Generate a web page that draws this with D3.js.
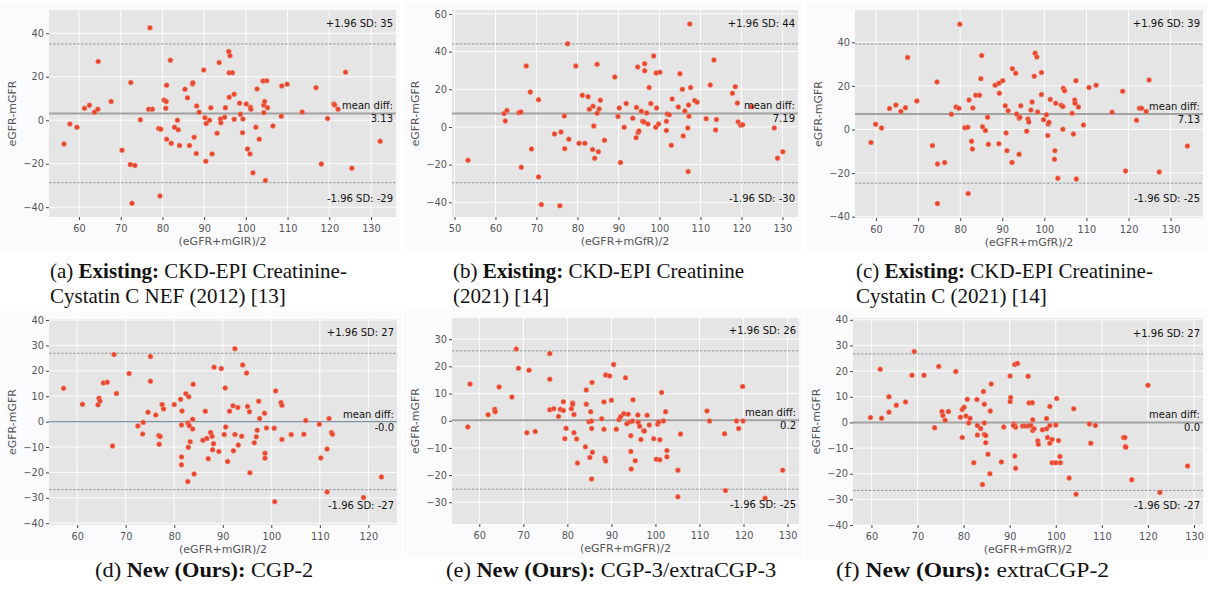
<!DOCTYPE html>
<html>
<head>
<meta charset="utf-8">
<script src="https://cdn.jsdelivr.net/npm/d3@7"></script>
<style>
  body { margin: 0; background: #fff; }
  svg { display: block; }
  .tick text { font-family: "DejaVu Sans", sans-serif; font-size: 9.8px; fill: #555; }
  .tick line { stroke: #444; }
  .domain { display: none; }
  .note { font-family: "DejaVu Sans", sans-serif; font-size: 10px; fill: #111; }
  .axlabel { font-family: "DejaVu Sans", sans-serif; font-size: 11px; fill: #555; }
  .caption { font-family: "Liberation Serif", "Times New Roman", serif; fill: #111; }
</style>
</head>
<body>
<div id="chart"></div>
<script>
// ---- data (mean = (eGFR+mGFR)/2, diff = eGFR-mGFR) ----
const aMean = [56.4,57.8,59.5,61.3,62.5,63.7,64.5,64.6,67.7,70.3,72.4,72.3,73.4,72.7,74.7,76.7,77.6,77.0,79.1,79.6,79.4,80.4,80.9,80.8,81.0,81.0,81.9,82.1,82.9,83.6,83.8,84.1,85.4,86.0,86.5,87.2,87.3,87.6,88.1,88.2,88.8,89.9,90.2,90.4,90.5,91.3,91.6,91.9,93.1,93.6,93.9,94.0,94.9,95.1,95.9,96.0,96.2,96.0,96.8,97.2,97.2,98.5,98.7,99.2,99.3,100.1,100.4,101.1,101.2,101.0,101.7,102.4,102.7,103.2,104.1,104.3,104.3,104.5,105.0,104.7,105.2,106.5,108.5,108.6,109.9,113.5,116.8,118.1,119.6,121.1,121.3,122.1,123.9,125.4,132.2];
const aDiff = [-10.9,-1.7,-3.2,5.5,6.9,3.7,5.1,27.0,8.6,-13.8,17.3,-20.4,-20.8,-38.2,0.2,5.1,5.1,42.5,-3.8,-4.1,-34.8,9.3,8.6,5.5,16.1,-8.7,27.6,-10.6,-3.2,0.0,-4.4,-11.6,14.3,10.3,-11.6,16.7,17.2,-7.8,-15.3,6.6,3.7,23.1,1.2,-18.9,-1.5,0.0,5.7,-15.5,-6.0,26.5,0.6,-1.1,1.4,5.8,31.6,10.6,29.7,21.8,21.8,12.0,0.5,7.8,2.8,-5.7,0.6,7.5,-13.2,6.0,5.1,-15.5,-24.2,-3.2,14.4,-8.7,18.1,3.5,6.9,8.6,18.2,-27.7,5.8,-2.6,1.8,15.8,16.6,3.8,15.0,-20.1,0.8,7.5,7.0,5.1,22.1,-22.1,-9.7];

const bMean = [53.3,62.1,62.4,62.8,65.7,66.2,66.3,67.5,68.5,68.8,70.5,70.5,71.2,74.4,75.7,76.0,76.8,76.9,77.6,77.9,79.6,80.4,81.2,81.8,82.6,82.9,83.8,83.7,84.0,84.2,84.8,84.8,85.1,85.3,85.6,86.6,89.1,89.9,90.2,90.5,91.4,91.9,93.5,94.3,94.4,94.7,94.8,95.0,95.6,95.9,96.2,96.4,96.4,96.9,97.2,97.5,97.9,98.6,99.1,99.2,99.3,99.8,100.1,101.7,101.7,101.9,102.4,102.9,103.1,104.6,105.0,105.6,105.8,106.2,107.0,106.9,107.1,107.2,107.4,107.6,108.6,109.2,111.4,112.4,113.3,113.7,113.9,117.8,118.5,119.0,119.2,119.8,120.3,122.5,128.0,128.8,130.1];
const bDiff = [-17.7,7.1,3.2,8.8,7.6,8.0,-21.4,32.4,18.6,-11.7,14.5,-26.5,-41.2,-3.7,-41.8,-2.7,5.8,-11.5,44.2,-6.5,32.4,-8.7,16.8,-8.7,16.1,9.4,11.0,-12.0,0.5,-16.6,7.3,33.3,-13.1,9.6,14.2,-7.1,26.5,5.5,10.1,-18.8,-0.2,12.4,4.6,-5.7,10.4,31.9,-3.0,-2.1,8.3,3.0,2.7,33.6,29.9,7.4,1.6,20.9,12.4,37.7,-0.2,28.7,10.1,1.6,29.0,3.0,-1.9,6.9,6.5,-9.7,14.9,10.6,28.3,20.0,-4.8,8.5,-23.7,-0.5,11.7,5.7,54.7,20.9,14.0,13.1,4.4,22.3,35.6,-1.6,3.9,17.9,21.4,12.7,2.7,0.9,1.2,10.8,-0.5,-16.6,-13.1];

const cMean = [58.8,59.9,61.3,63.2,64.7,65.9,67.0,67.5,69.7,73.4,74.5,74.6,74.6,76.3,77.9,79.0,79.7,79.9,81.1,81.8,82.1,81.9,82.7,82.9,83.0,83.7,84.6,84.9,85.1,85.3,86.0,86.5,86.7,88.3,89.2,89.3,89.2,90.1,90.7,90.9,91.1,91.4,92.3,92.4,93.2,93.4,94.0,94.2,94.0,94.4,95.8,96.1,96.3,96.8,97.1,97.6,97.8,98.2,98.4,99.3,99.3,99.8,100.5,100.9,101.1,100.8,101.4,102.5,102.4,102.7,103.2,104.0,104.4,104.4,104.5,104.8,106.6,106.9,107.2,107.3,107.5,107.6,108.1,109.3,110.6,112.3,116.1,118.6,119.3,121.9,122.6,123.1,124.2,124.9,127.3,134.0];
const cDiff = [-6.0,2.4,0.7,9.6,11.2,8.3,10.0,33.0,13.1,-7.4,21.8,-15.8,-34.0,-15.2,7.0,10.3,9.7,48.3,0.8,1.0,13.5,-29.4,-5.4,-8.9,9.9,15.7,15.7,23.3,33.9,1.3,-0.5,5.6,-6.8,20.3,21.2,16.6,-6.5,22.4,10.9,-1.6,-9.7,8.6,-15.1,27.9,25.8,7.1,5.1,5.6,-11.4,10.9,-0.8,4.8,3.4,8.9,12.6,24.4,35.0,33.3,8.0,26.1,16.0,4.5,6.8,2.5,3.3,-2.8,13.8,-9.7,-13.7,12.0,-22.4,11.1,10.5,0.1,18.9,17.8,7.4,-2.1,13.5,12.0,22.4,-22.7,10.3,2.1,19.2,20.3,7.9,17.5,-19.0,4.2,9.7,9.7,8.3,22.7,-19.5,-7.6];

const dMean = [57.2,61.1,64.3,64.5,64.7,65.4,66.2,67.3,67.6,68.1,70.7,72.5,73.6,73.5,74.6,75.1,75.1,76.2,76.8,77.1,76.9,77.5,77.8,80.0,81.3,81.5,81.6,81.5,81.5,82.4,82.8,83.0,83.1,82.9,82.8,83.3,83.8,83.8,83.9,84.1,85.9,86.4,86.7,87.0,87.5,87.8,87.9,88.1,88.2,89.2,89.7,90.5,90.6,90.3,91.0,91.4,92.1,92.2,92.5,92.5,93.1,93.2,93.9,94.1,94.9,95.1,95.5,95.6,96.5,96.9,97.1,97.4,97.6,98.6,98.7,98.7,99.0,100.6,100.7,100.9,102.0,102.2,102.2,104.1,106.7,107.1,109.9,110.2,111.5,111.5,111.9,112.4,112.6,119.0,122.7];
const dDiff = [13.1,6.8,6.6,9.2,8.1,15.2,15.5,-9.6,26.4,11.1,18.9,-1.7,-0.3,-4.9,3.7,25.6,15.9,2.6,-5.5,-5.9,-8.9,6.7,5.0,6.7,8.8,-1.3,4.2,-13.9,-17.0,11.0,-0.5,9.8,-1.6,-10.1,-23.6,-7.9,0.9,-2.9,14.7,-20.6,-7.3,4.1,-6.6,-14.6,-4.3,-5.8,-11.1,-8.7,21.4,-11.8,20.9,13.2,-2.1,-5.1,-15.7,4.1,6.2,-11.5,-5.1,28.7,5.6,-9.2,-5.8,22.3,19.1,6.0,3.9,-20.1,-8.3,-6.0,-3.4,8.0,1.2,3.3,-12.5,-14.4,-2.5,-2.6,-31.5,12.1,7.5,6.4,-7.0,-5.1,-5.0,0.4,-1.0,-14.3,-10.8,-27.7,1.2,-4.3,-5.0,-29.9,-21.8];

const eMean = [57.4,57.9,62.0,63.5,63.6,64.5,67.4,68.4,68.9,70.8,71.3,72.7,76.0,76.0,76.0,76.9,78.0,78.4,79.1,79.1,79.4,79.7,80.9,81.2,81.2,81.5,81.5,82.1,82.3,84.1,84.3,84.3,84.9,85.1,85.3,85.5,85.5,85.6,85.7,85.5,87.8,88.3,88.3,88.5,88.7,88.7,89.6,90.0,90.5,91.1,91.7,92.1,92.8,93.2,93.5,93.8,94.2,94.4,94.4,94.5,94.8,94.9,95.4,96.0,96.1,96.4,96.7,97.3,97.5,98.1,98.6,99.6,100.2,100.5,100.7,101.0,101.0,101.4,101.8,102.3,102.6,102.6,105.1,105.7,105.1,111.7,112.3,115.7,115.9,118.4,118.9,119.8,119.9,124.9,128.9];
const eDiff = [-2.3,13.5,2.2,4.2,3.3,12.4,8.7,26.4,19.3,-4.4,18.6,-4.0,24.7,15.3,4.0,4.4,1.6,4.2,3.8,7.0,-6.6,-2.8,4.4,6.5,6.1,-4.4,2.3,-6.7,-15.6,-9.6,6.1,11.3,-0.4,-13.5,3.3,-0.1,-2.9,14.1,-11.6,-21.4,0.7,6.9,-3.1,-13.8,-14.8,16.8,16.5,7.5,20.7,-3.1,0.4,1.5,2.6,15.8,-1.1,2.4,-0.4,-5.5,-11.3,-17.8,-0.1,7.7,-14.7,2.1,-0.6,-2.0,-6.9,-3.7,-3.8,2.0,-1.6,-6.6,-14.2,-1.3,-0.5,-7.0,-14.4,10.4,-0.1,3.3,-11.0,-13.3,-18.2,-4.9,-28.0,3.6,-0.1,-4.8,-25.7,-0.1,-2.9,12.6,-0.1,-28.5,-18.2];

const fMean = [59.8,61.9,62.2,63.8,63.8,65.4,67.4,68.8,69.3,71.4,73.7,74.6,75.3,75.5,76.0,76.7,78.3,79.3,79.7,79.7,80.1,80.5,80.8,81.1,81.4,82.2,82.9,83.0,83.0,83.7,84.1,84.3,84.5,84.5,84.5,84.8,84.8,85.3,85.7,85.8,86.0,88.2,88.7,90.1,90.1,90.2,90.9,91.1,91.1,91.1,91.3,91.7,90.8,91.3,92.8,93.4,94.0,94.0,94.2,94.6,94.9,95.0,95.0,95.3,96.1,96.2,97.1,98.0,98.0,98.2,98.7,98.7,98.7,99.2,99.2,100.0,100.2,100.0,100.6,100.9,101.0,102.9,103.9,104.4,107.3,107.6,108.6,114.7,115.0,115.1,115.2,116.5,120.0,122.6,128.6];
const fDiff = [1.9,20.7,1.6,10.0,4.0,6.7,8.0,18.4,27.6,18.4,-2.1,21.8,4.2,2.7,0.8,4.2,19.8,2.0,5.0,-5.9,5.9,2.5,9.0,-0.2,1.6,-15.7,8.9,-1.2,-4.9,-2.4,-24.2,12.0,-0.2,7.1,-4.7,-5.1,-7.9,-12.4,-20.0,4.4,15.0,-15.4,-1.8,18.1,8.1,9.7,-0.6,22.6,-13.1,-1.2,-1.9,23.0,-1.2,-17.9,-1.4,-1.4,18.0,-1.4,7.6,-1.2,7.7,1.0,-3.2,-2.5,-7.2,-8.5,-2.9,-2.5,1.5,-5.9,-1.2,-8.1,6.2,-6.7,-15.7,-1.0,9.3,-15.7,-7.1,-13.3,-15.7,-21.7,5.3,-28.0,-0.6,-8.1,-1.2,-5.9,-5.9,-9.4,-9.7,-22.4,14.5,-27.3,-17.0];

// limits of agreement: [upper, mean, lower] and the texts printed beside them
const aLimits = [35.1, 3.13, -28.7], aNotes = ['35', '3.13', '-29'];
const bLimits = [44.1, 7.19, -29.6], bNotes = ['44', '7.19', '-30'];
const cLimits = [39.2, 7.13, -24.6], cNotes = ['39', '7.13', '-25'];
const dLimits = [26.9, 0.0, -26.8], dNotes = ['27', '-0.0', '-27'];
const eLimits = [25.7, 0.2, -25.2], eNotes = ['26', '0.2', '-25'];
const fLimits = [26.7, 0.0, -26.5], fNotes = ['27', '0.0', '-27'];

// tick values
const xTicks60 = [60, 70, 80, 90, 100, 110, 120, 130];
const xTicks50 = [50, 60, 70, 80, 90, 100, 110, 120, 130];
const xTicks120 = [60, 70, 80, 90, 100, 110, 120];
const yTicks20 = [-40, -20, 0, 20, 40];
const yTicks60 = [-40, -20, 0, 20, 40, 60];
const yTicks10 = [-40, -30, -20, -10, 0, 10, 20, 30, 40];
const yTicks30 = [-30, -20, -10, 0, 10, 20, 30];

const xLabels = ['(eGFR+mGIR)/2', '(eGFR+mGfR)/2', '(eGFR+mGfR)/2', '(eGFR+mGIR)/2', '(eGFR+mGFR)/2', '(eGFR+mGfR)/2'];

const captions = [
    [['(a) ', 'Existing:', ' CKD-EPI Creatinine-'], ['Cystatin C NEF (2012) [13]']],
    [['(b) ', 'Existing:', ' CKD-EPI Creatinine'], ['(2021) [14]']],
    [['(c) ', 'Existing:', ' CKD-EPI Creatinine-'], ['Cystatin C (2021) [14]']],
    [['(d) ', 'New (Ours):', ' CGP-2']],
    [['(e) ', 'New (Ours):', ' CGP-3/extraCGP-3']],
    [['(f) ', 'New (Ours):', ' extraCGP-2']]
];

// ---- layout ----
const W = 1209, H = 595;
const panels = [
    { mean: aMean, diff: aDiff, lim: aLimits, notes: aNotes, box: [49, 396, 10, 217], xd: [52.8, 136.0], yd: [-44.5, 50.7], xt: xTicks60, yt: yTicks20, cap: [50, 278], capSize: 21, capStretch: 1 },
    { mean: bMean, diff: bDiff, lim: bLimits, notes: bNotes, box: [452, 798, 10, 217], xd: [49.4, 133.8], yd: [-47.8, 62.1], xt: xTicks50, yt: yTicks60, cap: [453, 278], capSize: 21, capStretch: 1 },
    { mean: cMean, diff: cDiff, lim: cLimits, notes: cNotes, box: [855, 1203, 10, 218], xd: [55.0, 137.7], yd: [-40.6, 54.8], xt: xTicks60, yt: yTicks20, cap: [856, 278], capSize: 21, capStretch: 1 },
    { mean: dMean, diff: dDiff, lim: dLimits, notes: dNotes, box: [49, 397, 319, 525], xd: [54.2, 125.9], yd: [-40.7, 40.4], xt: xTicks120, yt: yTicks10, cap: [95, 577], capSize: 20, capStretch: 1.12, meanColor: '#8094a6' },
    { mean: eMean, diff: eDiff, lim: eLimits, notes: eNotes, box: [452, 799, 318, 524], xd: [53.8, 132.6], yd: [-38.0, 37.8], xt: xTicks60, yt: yTicks30, cap: [446, 577], capSize: 20, capStretch: 1.12 },
    { mean: fMean, diff: fDiff, lim: fLimits, notes: fNotes, box: [853, 1203, 318, 525], xd: [56.0, 131.95], yd: [-40.0, 40.7], xt: xTicks60, yt: yTicks10, cap: [836, 577], capSize: 20, capStretch: 1.18 }
];

const svg = d3.select('#chart')
    .append('svg')
    .attr('width', W)
    .attr('height', H);

panels.forEach((p, i) => {
    const [x0, x1, y0, y1] = p.box;
    const x = d3.scaleLinear().domain(p.xd).range([x0, x1]);
    const y = d3.scaleLinear().domain(p.yd).range([y1, y0]);
    const g = svg.append('g');

    // figure face
    g.append('rect')
        .attr('x', x0 - 48).attr('y', y0 - 8)
        .attr('width', x1 - x0 + 52).attr('height', y1 - y0 + 42)
        .attr('fill', '#fbfbfd');

    // plot background
    g.append('rect')
        .attr('x', x0).attr('y', y0)
        .attr('width', x1 - x0).attr('height', y1 - y0)
        .attr('fill', '#e5e5e5');

    // grid
    g.selectAll('.vg').data(p.xt).enter().append('line')
        .attr('x1', d => x(d)).attr('x2', d => x(d))
        .attr('y1', y0).attr('y2', y1)
        .style('stroke', '#fff').style('stroke-width', 0.9);
    g.selectAll('.hg').data(p.yt).enter().append('line')
        .attr('x1', x0).attr('x2', x1)
        .attr('y1', d => y(d)).attr('y2', d => y(d))
        .style('stroke', '#fff').style('stroke-width', 0.9);

    // axes
    g.append('g')
        .attr('transform', `translate(0,${y1})`)
        .call(d3.axisBottom(x).tickValues(p.xt).tickSize(3).tickPadding(5));
    g.append('g')
        .attr('transform', `translate(${x0},0)`)
        .call(d3.axisLeft(y).tickValues(p.yt).tickSize(3).tickPadding(2));

    // limit and mean lines
    const [up, md, lo] = p.lim;
    g.selectAll('.lim').data([up, lo]).enter().append('line')
        .attr('x1', x0).attr('x2', x1)
        .attr('y1', d => y(d)).attr('y2', d => y(d))
        .style('stroke', '#7d8c99')
        .style('stroke-width', 0.9)
        .style('stroke-dasharray', '2.5,1.5');
    g.append('line')
        .attr('x1', x0).attr('x2', x1)
        .attr('y1', y(md)).attr('y2', y(md))
        .style('stroke', p.meanColor || '#a2a2a2')
        .style('stroke-width', p.meanColor ? 1.3 : 2);

    // points
    g.selectAll('.pt').data(p.mean).enter().append('circle')
        .attr('cx', d => x(d))
        .attr('cy', (d, j) => y(p.diff[j]))
        .attr('r', 2.5)
        .style('fill', '#e8452c')
        .style('stroke', '#f29a88')
        .style('stroke-width', 0.5);

    // annotations
    const tx = x1 - 3;
    g.append('text').attr('class', 'note').attr('text-anchor', 'end')
        .attr('x', tx).attr('y', y(up) - 17)
        .text(`+1.96 SD: ${p.notes[0]}`);
    g.append('text').attr('class', 'note').attr('text-anchor', 'end')
        .attr('x', tx).attr('y', y(md) - 4)
        .text('mean diff:');
    g.append('text').attr('class', 'note').attr('text-anchor', 'end')
        .attr('x', tx).attr('y', y(md) + 9)
        .text(p.notes[1]);
    g.append('text').attr('class', 'note').attr('text-anchor', 'end')
        .attr('x', tx).attr('y', y(lo) + 19)
        .text(`-1.96 SD: ${p.notes[2]}`);

    // axis labels
    g.append('text').attr('class', 'axlabel')
        .attr('text-anchor', 'middle')
        .attr('x', (x0 + x1) / 2).attr('y', y1 + 28)
        .text(xLabels[i]);
    g.append('text').attr('class', 'axlabel')
        .attr('text-anchor', 'middle')
        .attr('transform', `translate(${x0 - 33},${(y0 + y1) / 2}) rotate(-90)`)
        .text('eGFR-mGFR');

    // caption
    captions[i].forEach((parts, k) => {
        const t = svg.append('text').attr('class', 'caption')
            .style('font-size', p.capSize + 'px')
            .attr('transform', `translate(${p.cap[0]},${p.cap[1] + k * 25}) scale(${p.capStretch},1)`);
        parts.forEach((s, m) => {
            t.append('tspan').text(s).style('font-weight', m === 1 ? 'bold' : 'normal');
        });
    });
});
</script>
</body>
</html>
